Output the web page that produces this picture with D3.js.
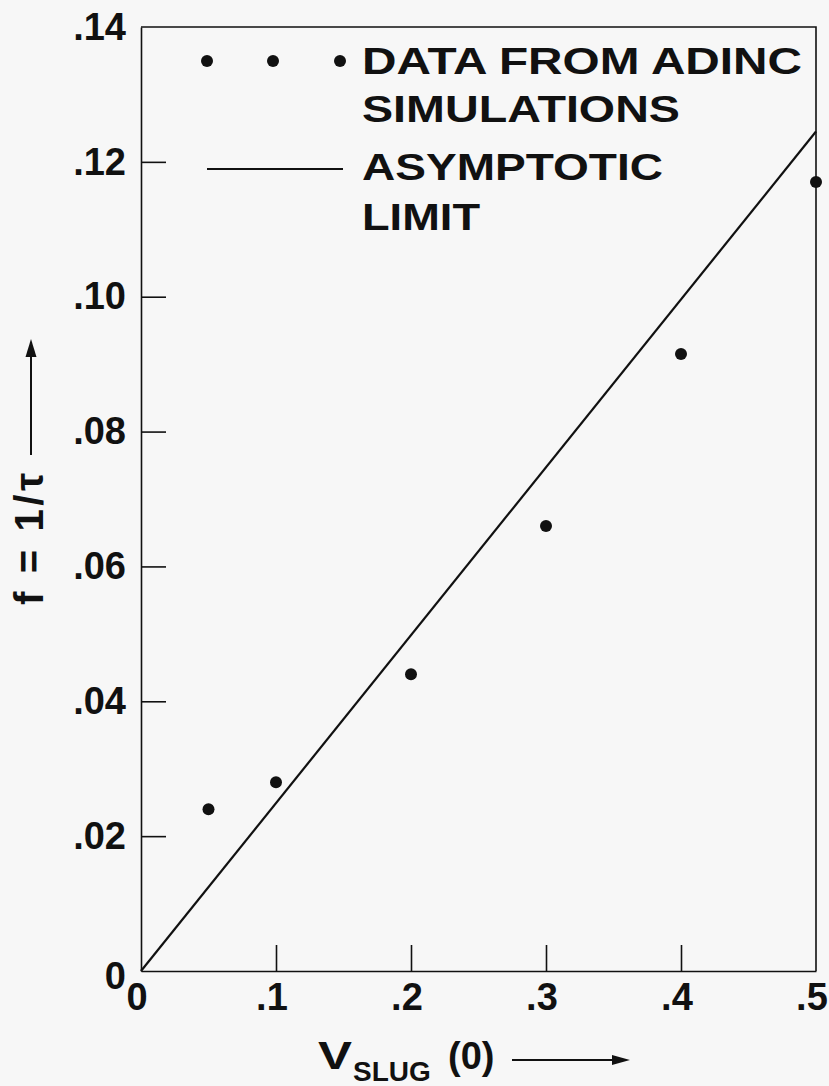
<!DOCTYPE html>
<html>
<head>
<meta charset="utf-8">
<script src="https://cdn.jsdelivr.net/npm/d3@7"></script>
<style>
  html, body { margin: 0; padding: 0; background: #f7f7f7; }
  text { font-family: "Liberation Sans", Arial, sans-serif; fill: #111; }
</style>
</head>
<body>
<div id="cont"></div>
<script>
// Data
var simV = [0.05, 0.1, 0.2, 0.3, 0.4, 0.5];
var simF = [0.024, 0.028, 0.044, 0.066, 0.0915, 0.117];
var limitV = [0, 0.5];
var limitF = [0, 0.1245];
var xTicks = [0, 0.1, 0.2, 0.3, 0.4, 0.5];
var yTicks = [0, 0.02, 0.04, 0.06, 0.08, 0.10, 0.12, 0.14];
var legendText = [["DATA FROM ADINC", "SIMULATIONS"], ["ASYMPTOTIC", "LIMIT"]];

var W = 829, H = 1086;
var pLeft = 141, pRight = 816, pTop = 27, pBottom = 971;
var ink = "#111";

var svg = d3.select("#cont").append("svg")
    .attr("width", W)
    .attr("height", H);

svg.append("rect")
    .attr("width", W).attr("height", H)
    .attr("fill", "#f7f7f7");

var x = d3.scaleLinear().domain([0, 0.5]).range([pLeft, pRight]);
var y = d3.scaleLinear().domain([0, 0.14]).range([pBottom, pTop]);

var yFmt = function(d) {
    if (d === 0) return "0";
    return d3.format(".2f")(d).replace(/^0/, "");
};
var xFmt = function(d) {
    if (d === 0) return "0";
    return d3.format(".1f")(d).replace(/^0/, "");
};

// y axis, ticks pointing inward
var yAxis = svg.append("g")
    .attr("transform", "translate(" + pLeft + ",0)")
    .call(d3.axisLeft(y).tickValues(yTicks).tickSizeInner(-25).tickSizeOuter(0)
        .tickPadding(15).tickFormat(yFmt));

// x axis
var xAxis = svg.append("g")
    .attr("transform", "translate(0," + pBottom + ")")
    .call(d3.axisBottom(x).tickValues(xTicks).tickSizeInner(-26).tickSizeOuter(0)
        .tickPadding(12).tickFormat(xFmt));

[yAxis, xAxis].forEach(function(g) {
    g.select(".domain").attr("stroke", ink).attr("stroke-width", 1.6);
    g.selectAll(".tick line").attr("stroke", ink).attr("stroke-width", 1.6);
    g.selectAll(".tick text")
        .attr("font-family", "Liberation Sans, Arial, sans-serif")
        .attr("font-size", 38)
        .attr("font-weight", "bold")
        .attr("fill", ink);
});
yAxis.selectAll(".tick text").filter(function(d) { return d === 0; }).attr("dy", "0.45em");
xAxis.selectAll(".tick text").attr("dx", "-0.12em");
// edge ticks coincide with the frame
xAxis.selectAll(".tick line").filter(function(d) { return d === 0 || d === 0.5; }).remove();
yAxis.selectAll(".tick line").filter(function(d) { return d === 0 || d === 0.14; }).remove();

// frame top and right
svg.append("path")
    .attr("d", "M" + pLeft + "," + pTop + "H" + pRight + "V" + pBottom)
    .attr("fill", "none")
    .attr("stroke", ink)
    .attr("stroke-width", 1.6);

// asymptotic limit line
var line = d3.line()
    .x(function(d) { return x(d[0]); })
    .y(function(d) { return y(d[1]); });

svg.append("path")
    .datum(d3.zip(limitV, limitF))
    .attr("d", line)
    .attr("fill", "none")
    .attr("stroke", ink)
    .attr("stroke-width", 2.2);

// simulation points
svg.selectAll("circle.sim")
    .data(d3.zip(simV, simF))
    .enter().append("circle")
    .attr("class", "sim")
    .attr("cx", function(d) { return x(d[0]); })
    .attr("cy", function(d) { return y(d[1]); })
    .attr("r", 6)
    .attr("fill", ink);

// legend
var lg = svg.append("g");
[207, 273, 340].forEach(function(cx) {
    lg.append("circle").attr("cx", cx).attr("cy", 61).attr("r", 6).attr("fill", ink);
});
lg.append("line")
    .attr("x1", 207).attr("x2", 343).attr("y1", 169).attr("y2", 169)
    .attr("stroke", ink).attr("stroke-width", 2.2);

var legLines = [
    {t: legendText[0][0], y: 74, w: 440},
    {t: legendText[0][1], y: 122, w: 318},
    {t: legendText[1][0], y: 180, w: 301},
    {t: legendText[1][1], y: 230, w: 118}
];
lg.selectAll("text.leg")
    .data(legLines)
    .enter().append("text")
    .attr("class", "leg")
    .attr("x", 362)
    .attr("y", function(d) { return d.y; })
    .attr("font-size", 37)
    .attr("font-weight", "bold")
    .attr("textLength", function(d) { return d.w; })
    .attr("lengthAdjust", "spacingAndGlyphs")
    .text(function(d) { return d.t; });

// y axis title with arrow
svg.append("text")
    .attr("transform", "translate(43,539) rotate(-90)")
    .attr("text-anchor", "middle")
    .attr("font-size", 40)
    .attr("font-weight", "bold")
    .attr("textLength", 132)
    .attr("lengthAdjust", "spacing")
    .text("f = 1/τ");

svg.append("line")
    .attr("x1", 31).attr("x2", 31).attr("y1", 455).attr("y2", 352)
    .attr("stroke", ink).attr("stroke-width", 2);
svg.append("path")
    .attr("d", "M31,339L25.5,357L36.5,357Z")
    .attr("fill", ink);

// x axis title with arrow
var xt = svg.append("text")
    .attr("x", 318)
    .attr("y", 1069)
    .attr("font-size", 38)
    .attr("font-weight", "bold");
xt.append("tspan").attr("textLength", 34).attr("lengthAdjust", "spacingAndGlyphs").text("V");
xt.append("tspan").attr("x", 353).attr("font-size", 28).attr("dy", 12).text("SLUG");
xt.append("tspan").attr("x", 448).attr("dy", -12).text("(0)");

svg.append("line")
    .attr("x1", 512).attr("x2", 615).attr("y1", 1060).attr("y2", 1060)
    .attr("stroke", ink).attr("stroke-width", 2);
svg.append("path")
    .attr("d", "M630,1060L612,1055L612,1065Z")
    .attr("fill", ink);
</script>
</body>
</html>
